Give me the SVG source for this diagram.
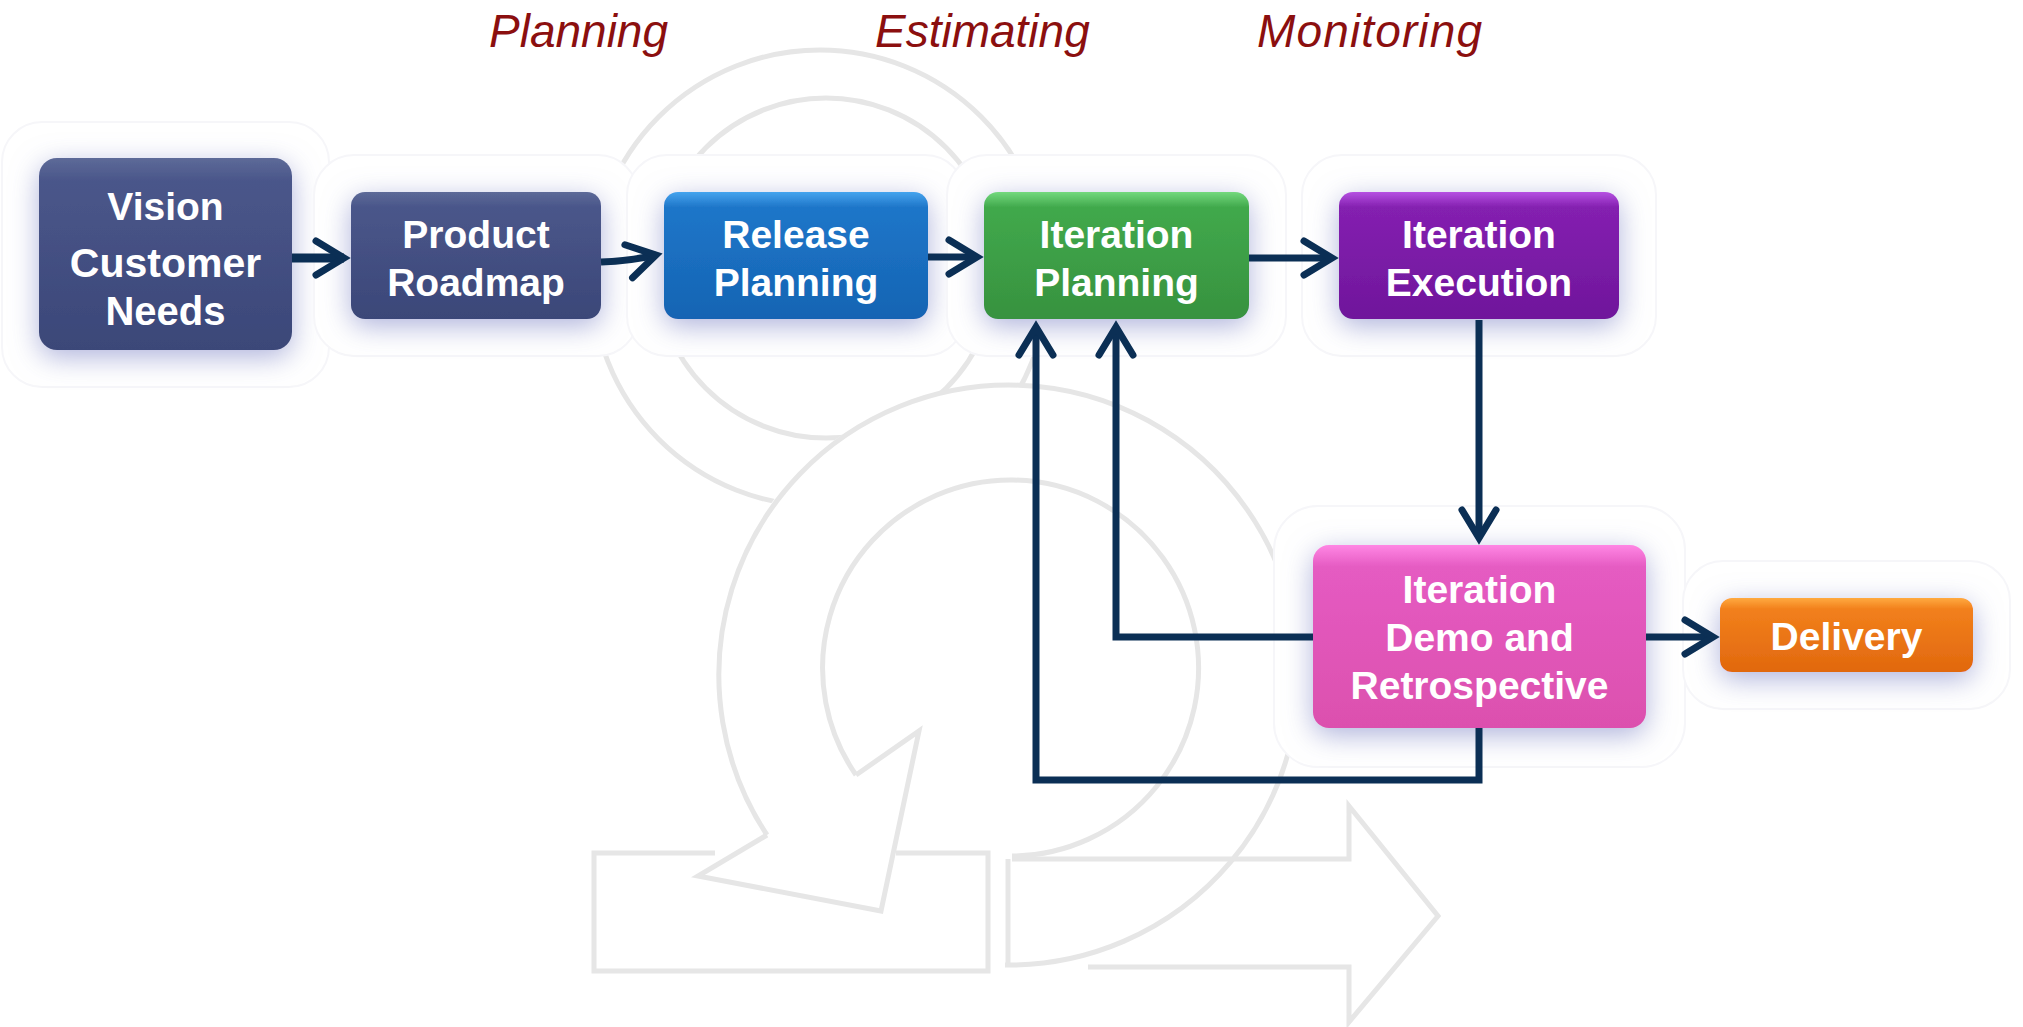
<svg xmlns="http://www.w3.org/2000/svg" width="2023" height="1027" viewBox="0 0 2023 1027">
<defs>
<style>
.wm{fill:none;stroke:#e6e6e6;stroke-width:5;stroke-linejoin:miter}
.occ{fill:#ffffff;stroke:#f6f6f9;stroke-width:2}
.lbl{font-family:"Liberation Sans",Arial,sans-serif;font-weight:bold;font-size:39px;fill:#ffffff;text-anchor:middle}
.ttl{font-family:"Liberation Sans",Arial,sans-serif;font-style:italic;font-size:46px;fill:#8b0f0f}
.con{fill:none;stroke:#0b2f55;stroke-width:7;stroke-linejoin:miter}
</style>
<linearGradient id="gNavy" x1="0" y1="0" x2="0" y2="1"><stop offset="0" stop-color="#5d6a98"/><stop offset="0.12" stop-color="#4a568a"/><stop offset="1" stop-color="#3b4778"/></linearGradient>
<linearGradient id="gBlue" x1="0" y1="0" x2="0" y2="1"><stop offset="0" stop-color="#45a4ee"/><stop offset="0.12" stop-color="#1e76c9"/><stop offset="1" stop-color="#1564b3"/></linearGradient>
<linearGradient id="gGreen" x1="0" y1="0" x2="0" y2="1"><stop offset="0" stop-color="#74d97e"/><stop offset="0.12" stop-color="#41a94c"/><stop offset="1" stop-color="#37923f"/></linearGradient>
<linearGradient id="gPurple" x1="0" y1="0" x2="0" y2="1"><stop offset="0" stop-color="#b651e2"/><stop offset="0.12" stop-color="#8420b0"/><stop offset="1" stop-color="#6f169b"/></linearGradient>
<linearGradient id="gPink" x1="0" y1="0" x2="0" y2="1"><stop offset="0" stop-color="#ff86e4"/><stop offset="0.12" stop-color="#e55bc2"/><stop offset="1" stop-color="#dc50ae"/></linearGradient>
<linearGradient id="gOrange" x1="0" y1="0" x2="0" y2="1"><stop offset="0" stop-color="#ffaa40"/><stop offset="0.15" stop-color="#f2801c"/><stop offset="1" stop-color="#e1680e"/></linearGradient>
<filter id="glow" x="-30%" y="-45%" width="160%" height="200%">
<feGaussianBlur in="SourceAlpha" stdDeviation="14" result="b"/>
<feOffset in="b" dy="7" result="o"/>
<feFlood flood-color="#8c92cc" flood-opacity="0.7"/>
<feComposite in2="o" operator="in" result="s"/>
<feMerge><feMergeNode in="s"/><feMergeNode in="SourceGraphic"/></feMerge>
</filter>
<mask id="topMask">
<rect x="0" y="0" width="2023" height="1027" fill="#fff"/>
<circle cx="1005" cy="675" r="290" fill="#000"/>
</mask>
<marker id="ah" markerUnits="userSpaceOnUse" markerWidth="60" markerHeight="60" viewBox="-40 -30 60 60" refX="0" refY="0" orient="auto" overflow="visible">
<path d="M-28,-17 L0,0 L-28,17" fill="none" stroke="#0b2f55" stroke-width="7" stroke-linecap="round" stroke-linejoin="miter"/>
</marker>
</defs>
<rect x="0" y="0" width="2023" height="1027" fill="#ffffff"/>

<g id="watermark">
<g mask="url(#topMask)">
<circle class="wm" cx="820" cy="278" r="228"/>
<circle class="wm" cx="826" cy="268" r="170"/>
</g>
<path class="wm" d="M767,835 A290 290 0 1 1 1005,965"/>
<path class="wm" d="M856,775 A188 188 0 1 1 1012,856"/>
<path class="wm" d="M856,775 L919,731 L881,911 L698,876 L767,835"/>
<path class="wm" d="M715,853 H594 V971 H988 V853 H896"/>
<path class="wm" d="M1008,859 V967"/>
<path class="wm" d="M1012,859 H1349 V806 L1438,916 L1349,1022 V967 H1088"/>
</g>

<g id="titles">
<text class="ttl" x="489" y="47">Planning</text>
<text class="ttl" x="875" y="47">Estimating</text>
<text class="ttl" x="1257" y="47" textLength="225">Monitoring</text>
</g>

<g id="node-vision">
<rect class="occ" x="2" y="122" width="327" height="265" rx="40"/>
<rect x="39" y="158" width="253" height="192" rx="18" fill="url(#gNavy)" filter="url(#glow)"/>
<text class="lbl" x="165.5" y="220" style="font-size:39px">Vision</text>
<text class="lbl" x="165.5" y="277" style="font-size:41px">Customer</text>
<text class="lbl" x="165.5" y="325" style="font-size:40px">Needs</text>
</g>

<g id="node-roadmap">
<rect class="occ" x="314" y="155" width="324" height="201" rx="40"/>
<rect x="351" y="192" width="250" height="127" rx="14" fill="url(#gNavy)" filter="url(#glow)"/>
<text class="lbl" x="476" y="248">Product</text>
<text class="lbl" x="476" y="296">Roadmap</text>
</g>

<g id="node-release">
<rect class="occ" x="627" y="155" width="338" height="201" rx="40"/>
<rect x="664" y="192" width="264" height="127" rx="14" fill="url(#gBlue)" filter="url(#glow)"/>
<text class="lbl" x="796" y="248">Release</text>
<text class="lbl" x="796" y="296">Planning</text>
</g>

<g id="node-iter-planning">
<rect class="occ" x="947" y="155" width="339" height="201" rx="40"/>
<rect x="984" y="192" width="265" height="127" rx="14" fill="url(#gGreen)" filter="url(#glow)"/>
<text class="lbl" x="1116.5" y="248">Iteration</text>
<text class="lbl" x="1116.5" y="296">Planning</text>
</g>

<g id="node-iter-execution">
<rect class="occ" x="1302" y="155" width="354" height="201" rx="40"/>
<rect x="1339" y="192" width="280" height="127" rx="14" fill="url(#gPurple)" filter="url(#glow)"/>
<text class="lbl" x="1479" y="248">Iteration</text>
<text class="lbl" x="1479" y="296">Execution</text>
</g>

<g id="node-demo">
<rect class="occ" x="1274" y="506" width="411" height="261" rx="44"/>
<rect x="1313" y="545" width="333" height="183" rx="16" fill="url(#gPink)" filter="url(#glow)"/>
<text class="lbl" x="1479.5" y="603">Iteration</text>
<text class="lbl" x="1479.5" y="651">Demo and</text>
<text class="lbl" x="1479.5" y="699">Retrospective</text>
</g>

<g id="node-delivery">
<rect class="occ" x="1683" y="561" width="327" height="148" rx="40"/>
<rect x="1720" y="598" width="253" height="74" rx="12" fill="url(#gOrange)" filter="url(#glow)"/>
<text class="lbl" x="1846.5" y="650">Delivery</text>
</g>

<g id="connectors">
<path class="con" style="stroke-width:9" d="M292,258 H344" marker-end="url(#ah)"/>
<path class="con" d="M601,262 Q630,261 656,255" marker-end="url(#ah)"/>
<path class="con" d="M928,257 H977" marker-end="url(#ah)"/>
<path class="con" d="M1249,258 H1332" marker-end="url(#ah)"/>
<path class="con" d="M1479,320 V538" marker-end="url(#ah)"/>
<path class="con" d="M1646,637 H1713" marker-end="url(#ah)"/>
<path class="con" d="M1313,637 H1116 V327" marker-end="url(#ah)"/>
<path class="con" d="M1479,728 V780 H1036 V327" marker-end="url(#ah)"/>
</g>
</svg>
